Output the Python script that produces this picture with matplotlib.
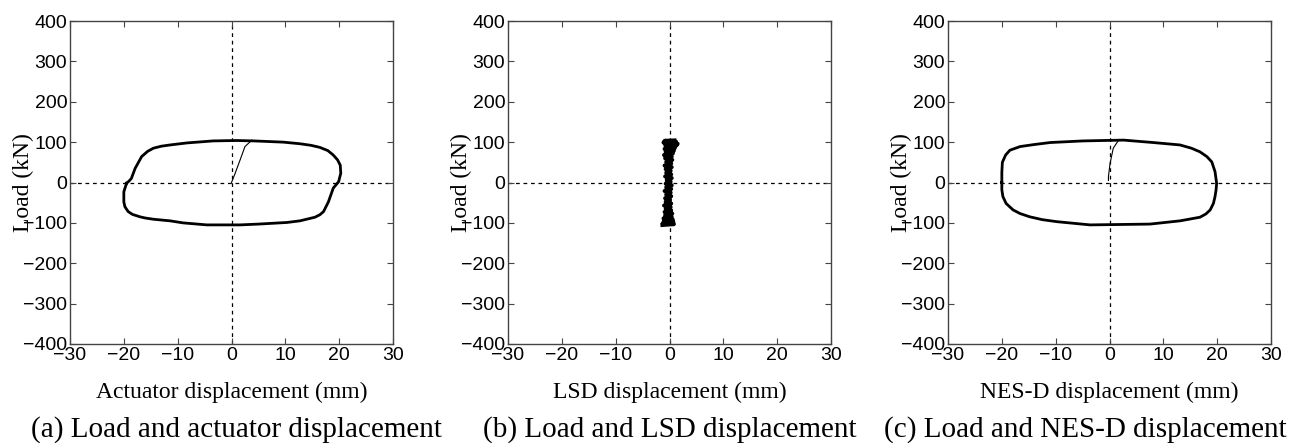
import matplotlib
matplotlib.use('Agg')
import matplotlib.pyplot as plt

# (a) actuator displacement loop (mm, kN)
act_disp = [-19.5, -19.0, -18.6, -17.9, -16.7, -15.6, -14.5, -13.0, -11.4, -8.3, -3.4, 1.0, 4.1,
            9.6, 12.7, 14.8, 16.4, 17.9, 18.9, 19.7, 20.2, 20.3, 19.9, 18.9, 18.0, 17.1, 16.4,
            15.5, 12.7, 10.3, 5.0, 1.6, -4.6, -9.0, -11.4, -14.5, -16.0, -17.0, -18.4, -19.2,
            -19.8, -20.0, -20.0, -19.5]
act_load = [-2, 4, 10, 35, 64, 77, 85, 90, 93, 98, 103, 104, 103,
            100, 96, 92, 87, 79, 68, 56, 43, 23, 2, -14, -48, -72, -80,
            -86, -95, -99, -103, -105, -105, -100, -95, -91, -88, -85, -79, -72,
            -60, -48, -23, -2]
act_init_disp = [0.0, 0.6, 1.6, 2.5, 3.8]
act_init_load = [0, 20, 56, 89, 105]

# (b) LSD displacement trace
lsd_disp = [-1.3, 0.8, -1.2, 0.7, -1.0, 0.6, -1.1, 0.4, -0.8, 0.5, -0.9, 0.3, -0.7, 0.2, -1.0,
            0.3, -0.7, 0.1, -0.8, 0.3, -0.6, 0.2, -0.9, 0.3, -0.6, 0.4, -0.7, 0.2, -0.5, 0.4,
            -0.8, 0.3, -0.6, 0.2, -0.7, 0.4, -0.9, 0.3, -0.6, 0.5, -0.8, 0.4, -1.0, 0.6,
            -0.7, 0.8, -0.9, 1.0, -0.7, 1.3, -0.8, 1.5, -1.1, 1.2, -0.9, 0.9]
lsd_load = [-105, -103, -100, -98, -95, -92, -89, -85, -81, -77, -73, -69, -65, -61, -57,
            -52, -48, -43, -39, -34, -30, -25, -21, -16, -12, -7, -3, 2, 6, 11,
            15, 20, 24, 29, 33, 38, 42, 47, 51, 56, 60, 64, 68, 72,
            76, 79, 83, 86, 89, 92, 94, 96, 99, 101, 103, 104]

# (c) NES-D displacement loop
nes_disp = [-20.0, -20.0, -19.9, -19.3, -18.5, -16.6, -14.0, -11.0, -4.9, 2.6, 8.1, 13.1, 15.2,
            16.8, 18.1, 19.0, 19.6, 19.9, 19.8, 19.6, 19.3, 18.7, 17.9, 16.8, 13.1, 7.5, -3.6,
            -9.8, -12.5, -14.8, -16.6, -17.9, -19.2, -19.8, -20.0, -20.0]
nes_load = [0, 25, 50, 68, 80, 89, 94, 99, 103, 105, 99, 93, 85,
            76, 64, 51, 27, -2, -18, -35, -52, -68, -78, -86, -95, -103, -105,
            -97, -92, -85, -77, -68, -52, -35, -18, 0]
nes_init_disp = [-0.2, -0.2, 0.1, 0.7, 1.6]
nes_init_load = [5, 14, 47, 85, 103]

xlabels = ['Actuator displacement (mm)', 'LSD displacement (mm)', 'NES-D displacement (mm)']
captions = ['(a) Load and actuator displacement', '(b) Load and LSD displacement',
            '(c) Load and NES-D displacement']
caption_x = [236, 670, 1085]

W, H = 1292, 443
fig = plt.figure(figsize=(W / 100, H / 100), dpi=100)
lefts = [70, 508, 948]
axes = []
for l in lefts:
    axes.append(fig.add_axes([l / W, (H - 344) / H, 323 / W, 323 / H]))

serif = 'Liberation Serif'
sans = 'Liberation Sans'

for i, ax in enumerate(axes):
    ax.axhline(0, color='black', lw=0.9, ls=(0, (3, 3)), zorder=1)
    ax.axvline(0, color='black', lw=0.9, ls=(0, (3, 3)), zorder=1)
    ax.set_xlim(-30, 30)
    ax.set_ylim(-400, 400)
    ax.set_xticks(range(-30, 31, 10))
    ax.set_yticks(range(-400, 401, 100))
    ax.set_xticklabels(['\u221230', '\u221220', '\u221210', '0', '10', '20', '30'])
    ax.set_yticklabels(['\u2212400', '\u2212300', '\u2212200', '\u2212100', '0', '100', '200', '300', '400'])
    ax.tick_params(direction='in', top=True, right=True, length=4.5, width=0.8, color='#444444',
                   labelsize=14, pad=2)
    for lab in ax.get_xticklabels() + ax.get_yticklabels():
        lab.set_fontfamily(sans)
    for s in ax.spines.values():
        s.set_color('#444444')
        s.set_linewidth(1.0)
    ax.set_xlabel(xlabels[i], fontfamily=serif, fontsize=17)
    ax.xaxis.set_label_coords(0.5, -0.118)
    ax.set_ylabel('Load (kN)', fontfamily=serif, fontsize=17)
    ax.yaxis.set_label_coords(-0.112, 0.5)
    fig.text(caption_x[i] / W, 13 / H, captions[i], fontfamily=serif, fontsize=21,
             ha='center', va='center')

axes[0].plot(act_disp, act_load, color='black', lw=2.0, zorder=3)
axes[0].plot(act_init_disp, act_init_load, color='black', lw=0.8, zorder=3)

axes[1].plot(lsd_disp, lsd_load, color='black', lw=3.0, zorder=3)

axes[2].plot(nes_disp, nes_load, color='black', lw=2.0, zorder=3)
axes[2].plot(nes_init_disp, nes_init_load, color='black', lw=0.8, zorder=3)

plt.savefig('out.png', dpi=100)
